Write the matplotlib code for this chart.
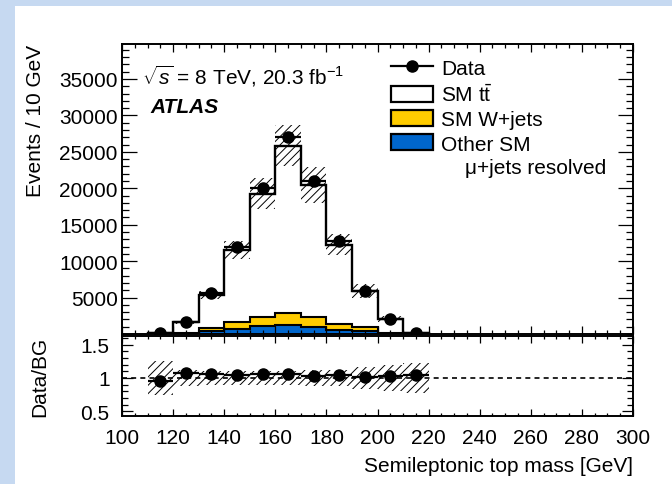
import numpy as np
import matplotlib
matplotlib.use("Agg")
import matplotlib.pyplot as plt
from matplotlib.patches import Patch, Rectangle
from matplotlib.lines import Line2D
from matplotlib.ticker import MultipleLocator, FixedLocator

plt.rcParams['font.family'] = ['Liberation Sans', 'DejaVu Sans']
plt.rcParams['mathtext.fontset'] = 'custom'
plt.rcParams['mathtext.rm'] = 'Liberation Sans'
plt.rcParams['mathtext.it'] = 'Liberation Sans:italic'
plt.rcParams['mathtext.bf'] = 'Liberation Sans:bold'
plt.rcParams['hatch.linewidth'] = 0.7

# 10 GeV bins of the semileptonic top mass
edges = np.arange(110, 230, 10)
data = [120, 1700, 5600, 12000, 20100, 27000, 20950, 12800, 5950, 2050, 200]
other_sm = [10, 60, 370, 690, 1100, 1240, 920, 550, 370, 60, 10]
wjets = [30, 140, 460, 1010, 1280, 1600, 1460, 830, 550, 120, 20]
ttbar = [40, 1400, 4540, 9860, 16890, 23030, 18120, 10870, 5040, 1920, 150]
bkg_unc = [0.26, 0.12, 0.11, 0.11, 0.11, 0.11, 0.12, 0.12, 0.16, 0.20, 0.22]
ratio = [0.96, 1.07, 1.06, 1.05, 1.06, 1.06, 1.03, 1.05, 1.02, 1.03, 1.04]

yticks_main = [5000, 10000, 15000, 20000, 25000, 30000, 35000]
xticks = [100, 120, 140, 160, 180, 200, 220, 240, 260, 280, 300]

c_yellow = '#ffcc00'
c_blue = '#0066cc'
fs = 15

fig = plt.figure(figsize=(6.72, 4.85), dpi=100, facecolor='#c6d9f1')
fig.patches.append(Rectangle((15 / 672, 0), 1, 1 - 7 / 485, transform=fig.transFigure,
                             facecolor='white', edgecolor='none', zorder=-1))

ax = fig.add_axes([122 / 672, 1 - 335 / 485, 511 / 672, 290 / 485])
axr = fig.add_axes([122 / 672, 1 - 417 / 485, 511 / 672, 80 / 485])

centers = 0.5 * (edges[:-1] + edges[1:])
other_a = np.array(other_sm, float)
w_top = other_a + np.array(wjets, float)
total = w_top + np.array(ttbar, float)
unc = np.array(bkg_unc)

# stacked backgrounds: other SM, W+jets, ttbar on top
ax.stairs(total, edges, baseline=w_top, fill=True, facecolor='white', edgecolor='none')
ax.stairs(w_top, edges, baseline=other_a, fill=True, facecolor=c_yellow, edgecolor='none')
ax.stairs(other_a, edges, baseline=0, fill=True, facecolor=c_blue, edgecolor='none')
ax.stairs(other_a, edges, baseline=0, color='black', lw=1.5)
ax.stairs(w_top, edges, baseline=0, color='black', lw=1.5)
ax.stairs(total, edges, baseline=0, color='black', lw=1.7)
ax.stairs(total * (1 + unc), edges, baseline=total * (1 - unc), fill=True,
          facecolor='none', edgecolor='black', hatch='////', lw=0)
ax.errorbar(centers, data, xerr=5, fmt='o', color='black', ms=8, elinewidth=1.6,
            capsize=0, zorder=5)

ax.set_xlim(100, 300)
ax.set_ylim(0, 39800)
ax.set_yticks(yticks_main)
ax.yaxis.set_minor_locator(MultipleLocator(1000))
ax.xaxis.set_major_locator(FixedLocator(xticks))
ax.xaxis.set_minor_locator(MultipleLocator(5))
ax.tick_params(axis='both', which='both', direction='in', top=True, right=True, width=0.9)
ax.tick_params(axis='y', which='major', length=11, labelsize=fs, pad=3)
ax.tick_params(axis='y', which='minor', length=5)
ax.tick_params(axis='x', which='major', length=6, labelbottom=False)
ax.tick_params(axis='x', which='minor', length=3)
for s in ax.spines.values():
    s.set_linewidth(1.4)
ax.set_ylabel('Events / 10 GeV', fontsize=fs, loc='top')
ax.yaxis.set_label_coords(-0.151, 1.0)

ax.text(0.04, 0.865, r'$\sqrt{s}$ = 8 TeV, 20.3 fb$^{-1}$', transform=ax.transAxes,
        fontsize=fs, va='baseline')
ax.text(0.055, 0.765, 'ATLAS', transform=ax.transAxes, fontsize=fs,
        fontweight='bold', style='italic', va='baseline')
ax.text(0.947, 0.555, 'μ+jets resolved', transform=ax.transAxes, fontsize=fs,
        ha='right', va='baseline')

handles = [
    Line2D([], [], color='black', marker='o', ms=8, lw=1.6),
    Patch(facecolor='white', edgecolor='black', lw=1.6),
    Patch(facecolor=c_yellow, edgecolor='black', lw=1.6),
    Patch(facecolor=c_blue, edgecolor='black', lw=1.6),
]
labels = ['Data', r'SM t$\mathrm{\bar{t}}$', 'SM W+jets', 'Other SM']
ax.legend(handles, labels, loc='upper left', bbox_to_anchor=(0.527, 0.95), frameon=False,
          fontsize=fs, handlelength=2.0, handleheight=0.8, handletextpad=0.4,
          labelspacing=0.25, borderpad=0, borderaxespad=0)

# ratio panel
axr.stairs(1 + unc, edges, baseline=1 - unc, fill=True, facecolor='none',
           edgecolor='black', hatch='////', lw=0)
axr.axhline(1, color='black', lw=1.2, ls=(0, (3, 2.5)))
axr.errorbar(centers, ratio, xerr=5, fmt='o', color='black', ms=8, elinewidth=1.6,
             capsize=0, zorder=5)
axr.set_xlim(100, 300)
axr.set_ylim(0.43, 1.63)
axr.set_yticks([0.5, 1, 1.5])
axr.set_yticklabels(['0.5', '1', '1.5'])
axr.yaxis.set_minor_locator(MultipleLocator(0.1))
axr.set_xticks(xticks)
axr.xaxis.set_minor_locator(MultipleLocator(5))
axr.tick_params(axis='both', which='both', direction='in', top=True, right=True, width=0.9)
axr.tick_params(axis='y', which='major', length=8, labelsize=fs, pad=9)
axr.tick_params(axis='y', which='minor', length=4)
axr.tick_params(axis='x', which='major', length=5, labelsize=fs, pad=9)
axr.tick_params(axis='x', which='minor', length=2.5)
for s in axr.spines.values():
    s.set_linewidth(1.4)
axr.set_ylabel('Data/BG', fontsize=fs)
axr.yaxis.set_label_coords(-0.143, 0.5)
axr.set_xlabel('Semileptonic top mass [GeV]', fontsize=fs, loc='right')
axr.xaxis.set_label_coords(1.0, -0.5)

fig.savefig('out.png', dpi=100, facecolor=fig.get_facecolor())
